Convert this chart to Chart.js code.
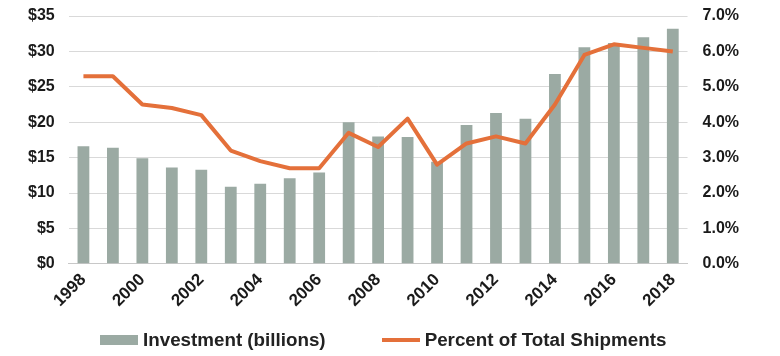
<!DOCTYPE html>
<html>
<head>
<meta charset="utf-8">
<script src="https://cdn.jsdelivr.net/npm/chart.js@4/dist/chart.umd.min.js"></script>
<style>
  html, body { margin: 0; padding: 0; background: #fff; }
  #wrap { position: relative; width: 780px; height: 356px; }
  #legend { position: absolute; left: 100px; top: 329px; height: 22px;
    display: flex; align-items: center; white-space: nowrap;
    font-family: "Liberation Sans", Arial, sans-serif; font-weight: bold; font-size: 18.8px; color: #222; }
  .item { display: flex; align-items: center; }
  .sw { display: inline-block; width: 38px; margin-right: 5px; }
</style>
</head>
<body>
<div id="wrap">
  <canvas id="c" width="780" height="356"></canvas>
  <div id="legend">
    <div class="item"><span class="sw" style="height:10px;background:#9BAAA3"></span><span>Investment (billions)</span></div>
    <div class="item" style="margin-left:56px"><span class="sw" style="height:4px;background:#E4703A"></span><span>Percent of Total Shipments</span></div>
  </div>
</div>
<script>
const categories = ["1998","1999","2000","2001","2002","2003","2004","2005","2006","2007","2008","2009","2010","2011","2012","2013","2014","2015","2016","2017","2018"];
const investment = [16.6, 16.4, 14.9, 13.6, 13.3, 10.9, 11.3, 12.1, 12.9, 20.0, 18.0, 17.9, 14.4, 19.6, 21.3, 20.5, 26.8, 30.6, 31.2, 32.0, 33.2];
const percentShipments = [5.3, 5.3, 4.5, 4.4, 4.2, 3.2, 2.9, 2.7, 2.7, 3.7, 3.3, 4.1, 2.8, 3.4, 3.6, 3.4, 4.5, 5.9, 6.2, 6.1, 6.0];
const leftTicks = [0, 5, 10, 15, 20, 25, 30, 35];
const rightTicks = [0, 1, 2, 3, 4, 5, 6, 7];
const seriesNames = ["Investment (billions)", "Percent of Total Shipments"];

const tickFont = { family: "'Liberation Sans', Arial, sans-serif", size: 16, weight: 'bold' };
const xTickFont = { family: "'Liberation Sans', Arial, sans-serif", size: 17, weight: 'bold' };

new Chart(document.getElementById('c'), {
  type: 'bar',
  data: {
    labels: categories,
    datasets: [
      { type: 'line', label: seriesNames[1], data: percentShipments, yAxisID: 'y1',
        borderColor: '#E4703A', borderWidth: 4, pointRadius: 0, tension: 0,
        borderJoinStyle: 'round', order: 1 },
      { type: 'bar', label: seriesNames[0], data: investment, yAxisID: 'y',
        backgroundColor: '#9BAAA3', barPercentage: 0.4, categoryPercentage: 1.0, order: 2 }
    ]
  },
  options: {
    responsive: false,
    animation: false,
    layout: { padding: { left: 26, right: 39, top: 16, bottom: 39 } },
    plugins: { legend: { display: false }, tooltip: { enabled: false } },
    scales: {
      x: {
        grid: { display: false, drawTicks: false },
        border: { display: true, color: '#c8c8c8', width: 1 },
        ticks: {
          autoSkip: false, maxRotation: 45, minRotation: 45, padding: 6,
          font: xTickFont, color: '#1a1a1a',
          callback: function(v, i) { return i % 2 === 0 ? categories[i] : ''; }
        }
      },
      y: {
        position: 'left', min: 0, max: 35,
        afterBuildTicks: (s) => { s.ticks = leftTicks.map(v => ({ value: v })); },
        grid: { color: '#d9d9d9', drawTicks: true, tickLength: 12, tickColor: 'rgba(0,0,0,0)' },
        border: { display: false },
        ticks: { padding: 2, font: tickFont, color: '#1a1a1a', callback: v => '$' + v }
      },
      y1: {
        position: 'right', min: 0, max: 7,
        afterBuildTicks: (s) => { s.ticks = rightTicks.map(v => ({ value: v })); },
        grid: { display: true, drawOnChartArea: false, drawTicks: true, tickLength: 13, tickColor: 'rgba(0,0,0,0)' },
        border: { display: false },
        ticks: { padding: 2, font: tickFont, color: '#1a1a1a', callback: v => v.toFixed(1) + '%' }
      }
    }
  }
});
</script>
</body>
</html>
